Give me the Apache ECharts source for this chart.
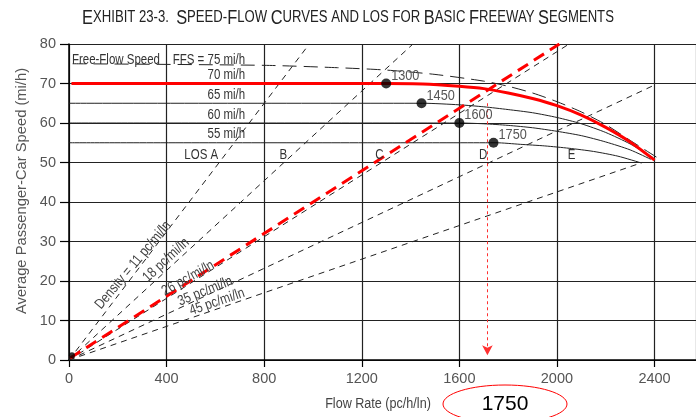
<!DOCTYPE html>
<html><head><meta charset="utf-8">
<script src="https://cdn.jsdelivr.net/npm/echarts@6/dist/echarts.min.js"></script>
<style>html,body{margin:0;padding:0;background:#fff}#c{width:696px;height:417px}</style>
</head><body><div id="c"></div>
<script>
// ---------- data ----------
const xTickLabels = [0, 400, 800, 1200, 1600, 2000, 2400];
const yTickLabels = [0, 10, 20, 30, 40, 50, 60, 70, 80];

// speed-flow curves [flow, speed]
const curveFFS75 = [[15,75],[800,74.6],[1100,74.0],[1300,73.4],[1500,72.3],[1700,70.6],[1800,69.3],[1900,67.6],[2000,65.4],[2100,62.8],[2200,59.6],[2300,55.6],[2430,50.5]];
const curveFFS70 = [[10,70],[1300,70],[1450,69.9],[1600,69.3],[1700,68.7],[1800,67.6],[1900,66.2],[2000,64.4],[2100,62.0],[2200,58.9],[2300,55.2],[2400,50.6]];
const curveFFS65 = [[0,65],[1450,65],[1600,64.6],[1700,64.1],[1800,63.4],[1900,62.6],[2000,61.4],[2100,59.8],[2200,57.6],[2300,54.7],[2395,51.2]];
const curveFFS60 = [[0,60],[1600,60],[1700,59.8],[1800,59.4],[1900,58.8],[2000,57.9],[2100,56.8],[2200,55.2],[2300,53.2],[2385,50.8]];
const curveFFS55 = [[0,55],[1750,55],[1850,54.6],[1950,54.2],[2050,53.6],[2150,52.8],[2250,51.6],[2345,49.9]];

// density lines from origin: end points
const densityValues   = [11, 18, 26, 35, 45];
const densityEndFlow  = [985, 1410, 2050, 2396, 2350];
const densityEndSpeed = [80, 80, 80, 69.5, 50];

// highlighted density line (red dashed)
const redDensityLine = [[5,0.5],[2010,80]];

// breakpoints
const breakFlow  = [1300, 1445, 1600, 1740];
const breakSpeed = [70, 65, 60, 55];
const breakLabel = ['1300', '1450', '1600', '1750'];
const originDot = [12, 1.2];

// red dotted arrow
const arrowFlow = 1715;
const arrowFrom = 65;
const arrowTo = 1.2;

// annotation texts
const ffsLabel = 'Free-Flow Speed';
const ffsLabelPos = [12, 75.9];
const speedLabels = ['FFS = 75 mi/h', '70 mi/h', '65 mi/h', '60 mi/h', '55 mi/h'];
const speedLabelFlow = [722, 722, 722, 722, 722];
const speedLabelSpeed = [75.9, 72.1, 67.1, 62.0, 57.2];
const losLabels = ['LOS A', 'B', 'C', 'D', 'E'];
const losFlow = [542, 878, 1272, 1698, 2060];
const losSpeed = [51.8, 51.8, 51.8, 51.8, 51.8];
const densityLabels = ['Density = 11 pc/mi/ln', '18 pc/mi/ln', '26 pc/mi/ln', '35 pc/mi/ln', '45 pc/mi/ln'];
const densityLabelFlow = [263, 398, 488, 558, 607];
const densityLabelSpeed = [24.0, 25.3, 20.7, 17.4, 14.7];
const densityLabelAngle = [50, 43, 29, 22, 19];

// ---------- fonts ----------
function fontAvailable(name) {
  const c = document.createElement('canvas').getContext('2d');
  const s = 'Free-Flow Speed 1234567890';
  c.font = '20px monospace'; const a = c.measureText(s).width;
  c.font = "20px '" + name + "', monospace"; const b = c.measureText(s).width;
  return Math.abs(a - b) > 0.5;
}
const HAS_NARROW = fontAvailable('Liberation Sans Narrow');
const BASE = "'Liberation Sans', Arial, sans-serif";
const TICK_FONT = HAS_NARROW ? "'Liberation Sans Narrow', sans-serif" : BASE;
const TICK_SIZE = HAS_NARROW ? 16 : 14.5;
const NARROW_SCALE = 0.82;

// ---------- chart ----------
const chart = echarts.init(document.getElementById('c'), null, {renderer:'canvas'});

function curve(data, color, width, type, z) {
  return {type:'line', data, showSymbol:false, smooth:0.25,
    lineStyle:{color, width, type}, z, silent:true, animation:false};
}

const series = [];
densityValues.forEach((d, i) => {
  series.push({type:'line', data:[[0,0],[densityEndFlow[i], densityEndSpeed[i]]], showSymbol:false,
    lineStyle:{color:'#222', width:1, type:[6,5]}, z:3, silent:true, animation:false});
});
series.push(curve(curveFFS75, '#222', 1, [14,7], 4));
series.push(curve(curveFFS65, '#222', 1, 'solid', 4));
series.push(curve(curveFFS60, '#222', 1, 'solid', 4));
series.push(curve(curveFFS55, '#222', 1, 'solid', 4));
series.push({type:'line', data:redDensityLine, showSymbol:false,
  lineStyle:{color:'#ff0000', width:3, type:[12,7]}, z:6, silent:true, animation:false});
series.push(curve(curveFFS70, '#ff0000', 3, 'solid', 7));
series.push({type:'line', data:[], z:6, silent:true, animation:false,
  markLine:{silent:true, symbol:['none','arrow'], symbolSize:[8,10], label:{show:false},
    lineStyle:{color:'#ff3030', width:1, type:[3,3]},
    data:[[{coord:[arrowFlow, arrowFrom]},{coord:[arrowFlow, arrowTo]}]]}});
series.push({type:'scatter', symbolSize:10, itemStyle:{color:'#000'}, z:8, silent:true, animation:false,
  data: breakFlow.map((f,i)=>({value:[f, breakSpeed[i]], name:breakLabel[i]}))});
series.push({type:'scatter', symbolSize:6, itemStyle:{color:'#000'}, z:8, silent:true, animation:false,
  data:[originDot]});

const option = {
  animation:false,
  backgroundColor:'#fff',
  grid:{left:69, top:44, right:0, bottom:57, containLabel:false},
  xAxis:{type:'value', min:0, max:2570, interval:400,
    axisLine:{show:true, onZero:false, lineStyle:{color:'#000', width:1.5}},
    axisTick:{show:true, length:7, lineStyle:{color:'#000', width:1.2}},
    axisLabel:{color:'#555', fontSize:TICK_SIZE, fontFamily:TICK_FONT, margin:11, showMaxLabel:false,
      formatter:v=>xTickLabels.includes(v)?String(v):''},
    splitLine:{show:true, lineStyle:{color:'#222', width:1.2}}},
  yAxis:{type:'value', min:0, max:80, interval:10,
    axisLine:{show:true, lineStyle:{color:'#000', width:1.5}},
    axisTick:{show:true, length:9, lineStyle:{color:'#000', width:1.2}},
    axisLabel:{color:'#555', fontSize:TICK_SIZE, fontFamily:TICK_FONT, margin:13,
      formatter:v=>yTickLabels.includes(v)?String(v):''},
    splitLine:{show:true, lineStyle:{color:'#222', width:1.2}}},
  series
};
chart.setOption(option);

// ---------- text annotations placed through the chart's scales ----------
const px = (f, s) => chart.convertToPixel({gridIndex:0}, [f, s]);
function narrowText(text, p, opts) {
  opts = opts || {};
  return {type:'text', x:p[0] + (opts.dx || 0), y:p[1] + (opts.dy || 0),
    rotation:(opts.rot || 0) * Math.PI / 180, scaleX:NARROW_SCALE, z:100,
    style:{text, fill:opts.color || '#333', fontSize:opts.size || 14, fontFamily:BASE,
      align:opts.align || 'center', verticalAlign:'middle'}};
}
const g = [];
g.push({type:'text', left:'center', top:8, scaleX:NARROW_SCALE, style:{
  text:'{b|E}{s|XHIBIT 23-3.  }{b|S}{s|PEED-}{b|F}{s|LOW }{b|C}{s|URVES AND LOS FOR }{b|B}{s|ASIC }{b|F}{s|REEWAY }{b|S}{s|EGMENTS}',
  rich:{b:{fontSize:20, fontFamily:BASE, fill:'#222'}, s:{fontSize:16, fontFamily:BASE, fill:'#222'}}}});
g.push({type:'text', x:22, y:191, rotation:Math.PI/2, scaleX:0.95, style:{text:'Average Passenger-Car Speed (mi/h)',
  fill:'#555', fontSize:15.5, fontFamily:BASE, align:'center', verticalAlign:'middle'}});
g.push({type:'text', x:378, y:404, scaleX:0.9, style:{text:'Flow Rate (pc/h/ln)', fill:'#444', fontSize:14, fontFamily:BASE,
  align:'center', verticalAlign:'middle'}});
g.push({type:'ellipse', shape:{cx:505, cy:404, rx:62, ry:19}, style:{fill:'none', stroke:'#ff0000', lineWidth:1}});
g.push({type:'text', x:505, y:404, style:{text:'1750', fill:'#000', fontSize:21, fontFamily:BASE,
  align:'center', verticalAlign:'middle'}});

g.push(narrowText(ffsLabel, px(ffsLabelPos[0], ffsLabelPos[1]), {align:'left'}));
speedLabels.forEach((t,i)=>g.push(narrowText(t, px(speedLabelFlow[i], speedLabelSpeed[i]), {align:'right'})));
losLabels.forEach((t,i)=>g.push(narrowText(t, px(losFlow[i], losSpeed[i]), {align:'center'})));
densityLabels.forEach((t,i)=>g.push(narrowText(t, px(densityLabelFlow[i], densityLabelSpeed[i]),
  {align:'center', rot:densityLabelAngle[i], color:'#444', size:14.5})));
breakLabel.forEach((t,i)=>g.push(narrowText(t, px(breakFlow[i], breakSpeed[i]),
  {align:'left', dx:5, dy:-8, color:'#555', size:15.5})));
chart.setOption({graphic:g});
</script>
</body></html>
